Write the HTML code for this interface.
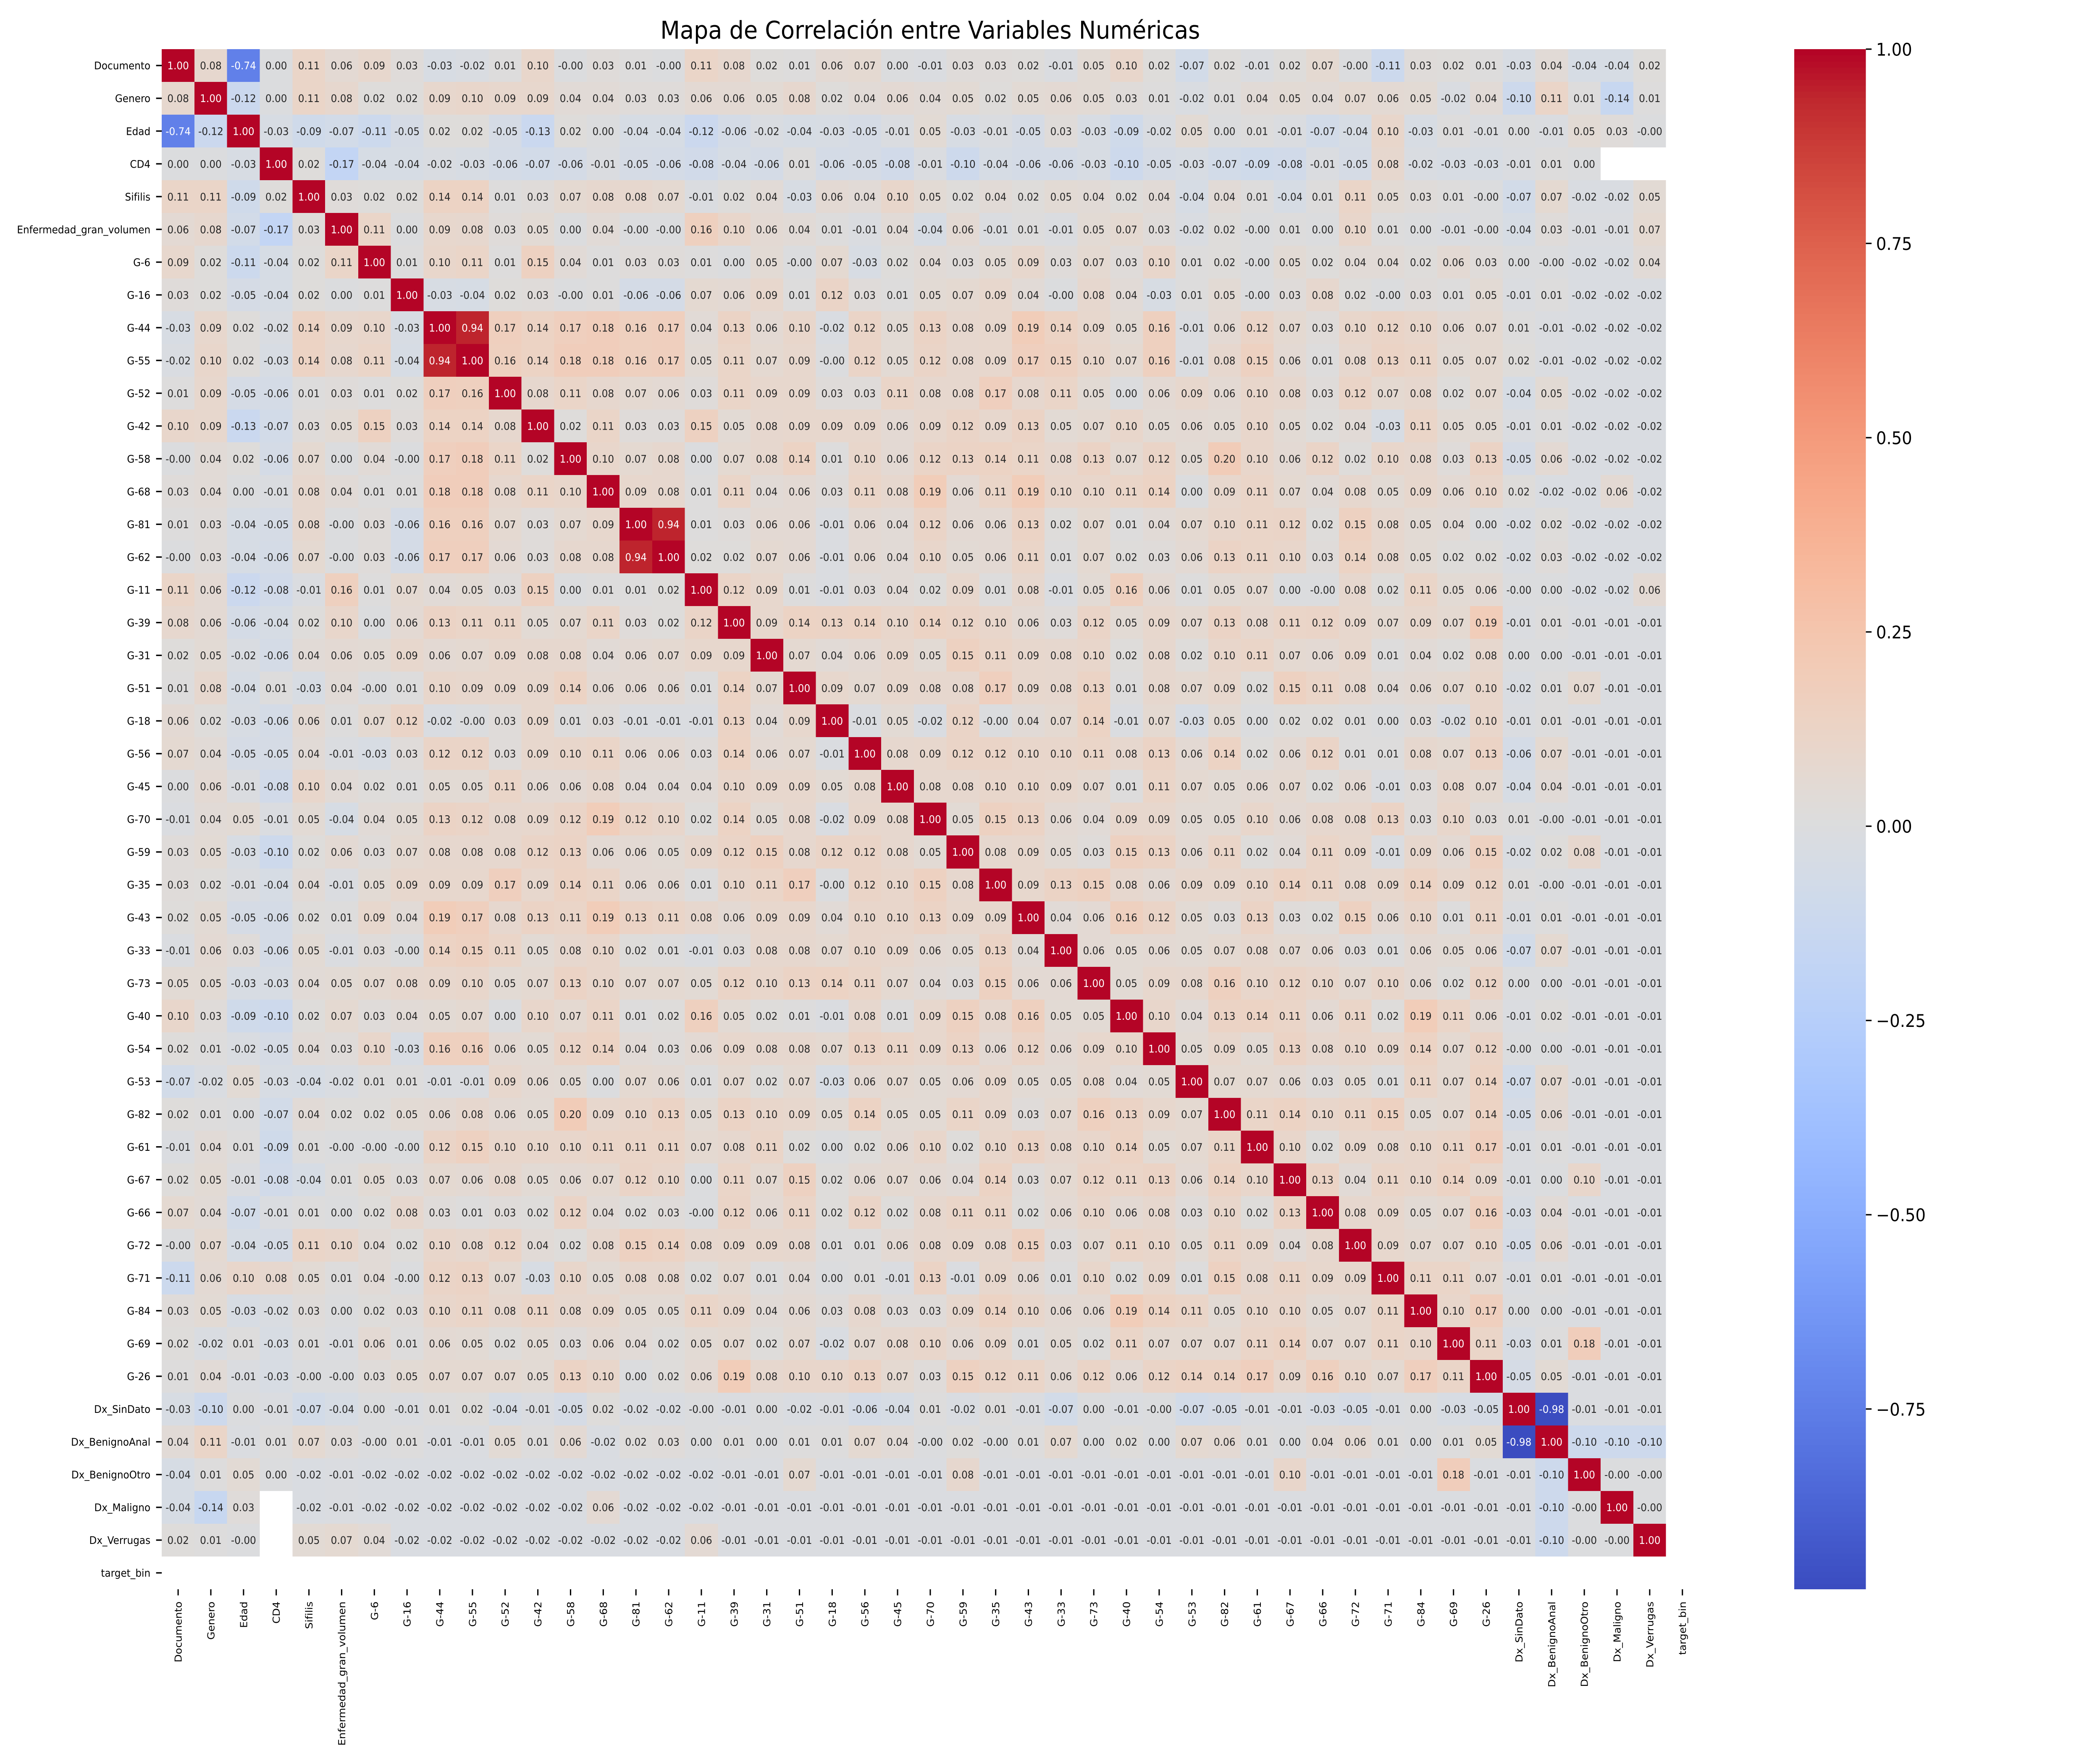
<!DOCTYPE html>
<html lang="es">
<head>
<meta charset="utf-8">
<title>Mapa de Correlación entre Variables Numéricas</title>
<style>
  html, body { margin: 0; padding: 0; background: #fff; width: 100vw; height: 100vh; overflow: hidden; }
  svg { display: block; width: 100vw; height: 100vh; overflow: hidden; }
  text { font-family: "DejaVu Sans", "Liberation Sans", sans-serif; text-rendering: geometricPrecision; }
</style>
</head>
<body>
<svg id="chart" xmlns="http://www.w3.org/2000/svg" viewBox="0 0 5400 4200" preserveAspectRatio="none">
  <rect x="0" y="0" width="5400" height="4200" fill="#ffffff"/>
  <text x="2392" y="92" font-size="58.33" text-anchor="middle" fill="#000">Mapa de Correlación entre Variables Numéricas</text>
  <g id="cells" shape-rendering="crispEdges"></g>
  <g id="annots"></g>
  <g id="yaxis"></g>
  <g id="xaxis"></g>
  <g id="cbar"></g>
</svg>
<script>
const categories = ["Documento","Genero","Edad","CD4","Sifilis","Enfermedad_gran_volumen","G-6","G-16","G-44","G-55","G-52","G-42","G-58","G-68","G-81","G-62","G-11","G-39","G-31","G-51","G-18","G-56","G-45","G-70","G-59","G-35","G-43","G-33","G-73","G-40","G-54","G-53","G-82","G-61","G-67","G-66","G-72","G-71","G-84","G-69","G-26","Dx_SinDato","Dx_BenignoAnal","Dx_BenignoOtro","Dx_Maligno","Dx_Verrugas","target_bin"];
const colorbarTicks = [1, 0.75, 0.5, 0.25, 0, -0.25, -0.5, -0.75];
const colorMin = -0.982;
const colorMax = 1;
/* -.001 marks values printed as -0.00; null marks empty (NaN) cells */
const correlations = [
[1,.08,-.74,.00,.11,.06,.09,.03,-.03,-.02,.01,.10,-.001,.03,.01,-.001,.11,.08,.02,.01,.06,.07,.00,-.01,.03,.03,.02,-.01,.05,.10,.02,-.07,.02,-.01,.02,.07,-.001,-.11,.03,.02,.01,-.03,.04,-.04,-.04,.02],
[.08,1,-.12,.00,.11,.08,.02,.02,.09,.10,.09,.09,.04,.04,.03,.03,.06,.06,.05,.08,.02,.04,.06,.04,.05,.02,.05,.06,.05,.03,.01,-.02,.01,.04,.05,.04,.07,.06,.05,-.02,.04,-.10,.11,.01,-.14,.01],
[-.74,-.12,1,-.03,-.09,-.07,-.11,-.05,.02,.02,-.05,-.13,.02,.00,-.04,-.04,-.12,-.06,-.02,-.04,-.03,-.05,-.01,.05,-.03,-.01,-.05,.03,-.03,-.09,-.02,.05,.00,.01,-.01,-.07,-.04,.10,-.03,.01,-.01,.00,-.01,.05,.03,-.001],
[.00,.00,-.03,1,.02,-.17,-.04,-.04,-.02,-.03,-.06,-.07,-.06,-.01,-.05,-.06,-.08,-.04,-.06,.01,-.06,-.05,-.08,-.01,-.10,-.04,-.06,-.06,-.03,-.10,-.05,-.03,-.07,-.09,-.08,-.01,-.05,.08,-.02,-.03,-.03,-.01,.01,.00,null,null],
[.11,.11,-.09,.02,1,.03,.02,.02,.14,.14,.01,.03,.07,.08,.08,.07,-.01,.02,.04,-.03,.06,.04,.10,.05,.02,.04,.02,.05,.04,.02,.04,-.04,.04,.01,-.04,.01,.11,.05,.03,.01,-.001,-.07,.07,-.02,-.02,.05],
[.06,.08,-.07,-.17,.03,1,.11,.00,.09,.08,.03,.05,.00,.04,-.001,-.001,.16,.10,.06,.04,.01,-.01,.04,-.04,.06,-.01,.01,-.01,.05,.07,.03,-.02,.02,-.001,.01,.00,.10,.01,.00,-.01,-.001,-.04,.03,-.01,-.01,.07],
[.09,.02,-.11,-.04,.02,.11,1,.01,.10,.11,.01,.15,.04,.01,.03,.03,.01,.00,.05,-.001,.07,-.03,.02,.04,.03,.05,.09,.03,.07,.03,.10,.01,.02,-.001,.05,.02,.04,.04,.02,.06,.03,.00,-.001,-.02,-.02,.04],
[.03,.02,-.05,-.04,.02,.00,.01,1,-.03,-.04,.02,.03,-.001,.01,-.06,-.06,.07,.06,.09,.01,.12,.03,.01,.05,.07,.09,.04,-.001,.08,.04,-.03,.01,.05,-.001,.03,.08,.02,-.001,.03,.01,.05,-.01,.01,-.02,-.02,-.02],
[-.03,.09,.02,-.02,.14,.09,.10,-.03,1,.94,.17,.14,.17,.18,.16,.17,.04,.13,.06,.10,-.02,.12,.05,.13,.08,.09,.19,.14,.09,.05,.16,-.01,.06,.12,.07,.03,.10,.12,.10,.06,.07,.01,-.01,-.02,-.02,-.02],
[-.02,.10,.02,-.03,.14,.08,.11,-.04,.94,1,.16,.14,.18,.18,.16,.17,.05,.11,.07,.09,-.001,.12,.05,.12,.08,.09,.17,.15,.10,.07,.16,-.01,.08,.15,.06,.01,.08,.13,.11,.05,.07,.02,-.01,-.02,-.02,-.02],
[.01,.09,-.05,-.06,.01,.03,.01,.02,.17,.16,1,.08,.11,.08,.07,.06,.03,.11,.09,.09,.03,.03,.11,.08,.08,.17,.08,.11,.05,.00,.06,.09,.06,.10,.08,.03,.12,.07,.08,.02,.07,-.04,.05,-.02,-.02,-.02],
[.10,.09,-.13,-.07,.03,.05,.15,.03,.14,.14,.08,1,.02,.11,.03,.03,.15,.05,.08,.09,.09,.09,.06,.09,.12,.09,.13,.05,.07,.10,.05,.06,.05,.10,.05,.02,.04,-.03,.11,.05,.05,-.01,.01,-.02,-.02,-.02],
[-.001,.04,.02,-.06,.07,.00,.04,-.001,.17,.18,.11,.02,1,.10,.07,.08,.00,.07,.08,.14,.01,.10,.06,.12,.13,.14,.11,.08,.13,.07,.12,.05,.20,.10,.06,.12,.02,.10,.08,.03,.13,-.05,.06,-.02,-.02,-.02],
[.03,.04,.00,-.01,.08,.04,.01,.01,.18,.18,.08,.11,.10,1,.09,.08,.01,.11,.04,.06,.03,.11,.08,.19,.06,.11,.19,.10,.10,.11,.14,.00,.09,.11,.07,.04,.08,.05,.09,.06,.10,.02,-.02,-.02,.06,-.02],
[.01,.03,-.04,-.05,.08,-.001,.03,-.06,.16,.16,.07,.03,.07,.09,1,.94,.01,.03,.06,.06,-.01,.06,.04,.12,.06,.06,.13,.02,.07,.01,.04,.07,.10,.11,.12,.02,.15,.08,.05,.04,.00,-.02,.02,-.02,-.02,-.02],
[-.001,.03,-.04,-.06,.07,-.001,.03,-.06,.17,.17,.06,.03,.08,.08,.94,1,.02,.02,.07,.06,-.01,.06,.04,.10,.05,.06,.11,.01,.07,.02,.03,.06,.13,.11,.10,.03,.14,.08,.05,.02,.02,-.02,.03,-.02,-.02,-.02],
[.11,.06,-.12,-.08,-.01,.16,.01,.07,.04,.05,.03,.15,.00,.01,.01,.02,1,.12,.09,.01,-.01,.03,.04,.02,.09,.01,.08,-.01,.05,.16,.06,.01,.05,.07,.00,-.001,.08,.02,.11,.05,.06,-.001,.00,-.02,-.02,.06],
[.08,.06,-.06,-.04,.02,.10,.00,.06,.13,.11,.11,.05,.07,.11,.03,.02,.12,1,.09,.14,.13,.14,.10,.14,.12,.10,.06,.03,.12,.05,.09,.07,.13,.08,.11,.12,.09,.07,.09,.07,.19,-.01,.01,-.01,-.01,-.01],
[.02,.05,-.02,-.06,.04,.06,.05,.09,.06,.07,.09,.08,.08,.04,.06,.07,.09,.09,1,.07,.04,.06,.09,.05,.15,.11,.09,.08,.10,.02,.08,.02,.10,.11,.07,.06,.09,.01,.04,.02,.08,.00,.00,-.01,-.01,-.01],
[.01,.08,-.04,.01,-.03,.04,-.001,.01,.10,.09,.09,.09,.14,.06,.06,.06,.01,.14,.07,1,.09,.07,.09,.08,.08,.17,.09,.08,.13,.01,.08,.07,.09,.02,.15,.11,.08,.04,.06,.07,.10,-.02,.01,.07,-.01,-.01],
[.06,.02,-.03,-.06,.06,.01,.07,.12,-.02,-.001,.03,.09,.01,.03,-.01,-.01,-.01,.13,.04,.09,1,-.01,.05,-.02,.12,-.001,.04,.07,.14,-.01,.07,-.03,.05,.00,.02,.02,.01,.00,.03,-.02,.10,-.01,.01,-.01,-.01,-.01],
[.07,.04,-.05,-.05,.04,-.01,-.03,.03,.12,.12,.03,.09,.10,.11,.06,.06,.03,.14,.06,.07,-.01,1,.08,.09,.12,.12,.10,.10,.11,.08,.13,.06,.14,.02,.06,.12,.01,.01,.08,.07,.13,-.06,.07,-.01,-.01,-.01],
[.00,.06,-.01,-.08,.10,.04,.02,.01,.05,.05,.11,.06,.06,.08,.04,.04,.04,.10,.09,.09,.05,.08,1,.08,.08,.10,.10,.09,.07,.01,.11,.07,.05,.06,.07,.02,.06,-.01,.03,.08,.07,-.04,.04,-.01,-.01,-.01],
[-.01,.04,.05,-.01,.05,-.04,.04,.05,.13,.12,.08,.09,.12,.19,.12,.10,.02,.14,.05,.08,-.02,.09,.08,1,.05,.15,.13,.06,.04,.09,.09,.05,.05,.10,.06,.08,.08,.13,.03,.10,.03,.01,-.001,-.01,-.01,-.01],
[.03,.05,-.03,-.10,.02,.06,.03,.07,.08,.08,.08,.12,.13,.06,.06,.05,.09,.12,.15,.08,.12,.12,.08,.05,1,.08,.09,.05,.03,.15,.13,.06,.11,.02,.04,.11,.09,-.01,.09,.06,.15,-.02,.02,.08,-.01,-.01],
[.03,.02,-.01,-.04,.04,-.01,.05,.09,.09,.09,.17,.09,.14,.11,.06,.06,.01,.10,.11,.17,-.001,.12,.10,.15,.08,1,.09,.13,.15,.08,.06,.09,.09,.10,.14,.11,.08,.09,.14,.09,.12,.01,-.001,-.01,-.01,-.01],
[.02,.05,-.05,-.06,.02,.01,.09,.04,.19,.17,.08,.13,.11,.19,.13,.11,.08,.06,.09,.09,.04,.10,.10,.13,.09,.09,1,.04,.06,.16,.12,.05,.03,.13,.03,.02,.15,.06,.10,.01,.11,-.01,.01,-.01,-.01,-.01],
[-.01,.06,.03,-.06,.05,-.01,.03,-.001,.14,.15,.11,.05,.08,.10,.02,.01,-.01,.03,.08,.08,.07,.10,.09,.06,.05,.13,.04,1,.06,.05,.06,.05,.07,.08,.07,.06,.03,.01,.06,.05,.06,-.07,.07,-.01,-.01,-.01],
[.05,.05,-.03,-.03,.04,.05,.07,.08,.09,.10,.05,.07,.13,.10,.07,.07,.05,.12,.10,.13,.14,.11,.07,.04,.03,.15,.06,.06,1,.05,.09,.08,.16,.10,.12,.10,.07,.10,.06,.02,.12,.00,.00,-.01,-.01,-.01],
[.10,.03,-.09,-.10,.02,.07,.03,.04,.05,.07,.00,.10,.07,.11,.01,.02,.16,.05,.02,.01,-.01,.08,.01,.09,.15,.08,.16,.05,.05,1,.10,.04,.13,.14,.11,.06,.11,.02,.19,.11,.06,-.01,.02,-.01,-.01,-.01],
[.02,.01,-.02,-.05,.04,.03,.10,-.03,.16,.16,.06,.05,.12,.14,.04,.03,.06,.09,.08,.08,.07,.13,.11,.09,.13,.06,.12,.06,.09,.10,1,.05,.09,.05,.13,.08,.10,.09,.14,.07,.12,-.001,.00,-.01,-.01,-.01],
[-.07,-.02,.05,-.03,-.04,-.02,.01,.01,-.01,-.01,.09,.06,.05,.00,.07,.06,.01,.07,.02,.07,-.03,.06,.07,.05,.06,.09,.05,.05,.08,.04,.05,1,.07,.07,.06,.03,.05,.01,.11,.07,.14,-.07,.07,-.01,-.01,-.01],
[.02,.01,.00,-.07,.04,.02,.02,.05,.06,.08,.06,.05,.20,.09,.10,.13,.05,.13,.10,.09,.05,.14,.05,.05,.11,.09,.03,.07,.16,.13,.09,.07,1,.11,.14,.10,.11,.15,.05,.07,.14,-.05,.06,-.01,-.01,-.01],
[-.01,.04,.01,-.09,.01,-.001,-.001,-.001,.12,.15,.10,.10,.10,.11,.11,.11,.07,.08,.11,.02,.00,.02,.06,.10,.02,.10,.13,.08,.10,.14,.05,.07,.11,1,.10,.02,.09,.08,.10,.11,.17,-.01,.01,-.01,-.01,-.01],
[.02,.05,-.01,-.08,-.04,.01,.05,.03,.07,.06,.08,.05,.06,.07,.12,.10,.00,.11,.07,.15,.02,.06,.07,.06,.04,.14,.03,.07,.12,.11,.13,.06,.14,.10,1,.13,.04,.11,.10,.14,.09,-.01,.00,.10,-.01,-.01],
[.07,.04,-.07,-.01,.01,.00,.02,.08,.03,.01,.03,.02,.12,.04,.02,.03,-.001,.12,.06,.11,.02,.12,.02,.08,.11,.11,.02,.06,.10,.06,.08,.03,.10,.02,.13,1,.08,.09,.05,.07,.16,-.03,.04,-.01,-.01,-.01],
[-.001,.07,-.04,-.05,.11,.10,.04,.02,.10,.08,.12,.04,.02,.08,.15,.14,.08,.09,.09,.08,.01,.01,.06,.08,.09,.08,.15,.03,.07,.11,.10,.05,.11,.09,.04,.08,1,.09,.07,.07,.10,-.05,.06,-.01,-.01,-.01],
[-.11,.06,.10,.08,.05,.01,.04,-.001,.12,.13,.07,-.03,.10,.05,.08,.08,.02,.07,.01,.04,.00,.01,-.01,.13,-.01,.09,.06,.01,.10,.02,.09,.01,.15,.08,.11,.09,.09,1,.11,.11,.07,-.01,.01,-.01,-.01,-.01],
[.03,.05,-.03,-.02,.03,.00,.02,.03,.10,.11,.08,.11,.08,.09,.05,.05,.11,.09,.04,.06,.03,.08,.03,.03,.09,.14,.10,.06,.06,.19,.14,.11,.05,.10,.10,.05,.07,.11,1,.10,.17,.00,.00,-.01,-.01,-.01],
[.02,-.02,.01,-.03,.01,-.01,.06,.01,.06,.05,.02,.05,.03,.06,.04,.02,.05,.07,.02,.07,-.02,.07,.08,.10,.06,.09,.01,.05,.02,.11,.07,.07,.07,.11,.14,.07,.07,.11,.10,1,.11,-.03,.01,.18,-.01,-.01],
[.01,.04,-.01,-.03,-.001,-.001,.03,.05,.07,.07,.07,.05,.13,.10,.00,.02,.06,.19,.08,.10,.10,.13,.07,.03,.15,.12,.11,.06,.12,.06,.12,.14,.14,.17,.09,.16,.10,.07,.17,.11,1,-.05,.05,-.01,-.01,-.01],
[-.03,-.10,.00,-.01,-.07,-.04,.00,-.01,.01,.02,-.04,-.01,-.05,.02,-.02,-.02,-.001,-.01,.00,-.02,-.01,-.06,-.04,.01,-.02,.01,-.01,-.07,.00,-.01,-.001,-.07,-.05,-.01,-.01,-.03,-.05,-.01,.00,-.03,-.05,1,-.98,-.01,-.01,-.01],
[.04,.11,-.01,.01,.07,.03,-.001,.01,-.01,-.01,.05,.01,.06,-.02,.02,.03,.00,.01,.00,.01,.01,.07,.04,-.001,.02,-.001,.01,.07,.00,.02,.00,.07,.06,.01,.00,.04,.06,.01,.00,.01,.05,-.98,1,-.10,-.10,-.10],
[-.04,.01,.05,.00,-.02,-.01,-.02,-.02,-.02,-.02,-.02,-.02,-.02,-.02,-.02,-.02,-.02,-.01,-.01,.07,-.01,-.01,-.01,-.01,.08,-.01,-.01,-.01,-.01,-.01,-.01,-.01,-.01,-.01,.10,-.01,-.01,-.01,-.01,.18,-.01,-.01,-.10,1,-.001,-.001],
[-.04,-.14,.03,null,-.02,-.01,-.02,-.02,-.02,-.02,-.02,-.02,-.02,.06,-.02,-.02,-.02,-.01,-.01,-.01,-.01,-.01,-.01,-.01,-.01,-.01,-.01,-.01,-.01,-.01,-.01,-.01,-.01,-.01,-.01,-.01,-.01,-.01,-.01,-.01,-.01,-.01,-.10,-.001,1,-.001],
[.02,.01,-.001,null,.05,.07,.04,-.02,-.02,-.02,-.02,-.02,-.02,-.02,-.02,-.02,.06,-.01,-.01,-.01,-.01,-.01,-.01,-.01,-.01,-.01,-.01,-.01,-.01,-.01,-.01,-.01,-.01,-.01,-.01,-.01,-.01,-.01,-.01,-.01,-.01,-.01,-.10,-.001,-.001,1]
];

/* matplotlib coolwarm colormap knots (33 evenly spaced stops) */
const cmR = [.2298057,.26623388,.30386891,.342804478,.38301334,.424369608,.46666708,.509635204,.552953156,.596262162,.639176211,.681291281,.722193294,.761464949,.798691636,.833466556,.865395197,.897787179,.924127593,.944468518,.958852946,.96732803,.969954137,.966811177,.958003065,.943660866,.923944917,.89904617,.869186849,.834620542,.795631745,.752534934,.705673158];
const cmG = [.298717966,.353094838,.406535296,.458757618,.50941904,.558148092,.604562568,.648280772,.688929332,.726149107,.759599947,.788964712,.813952739,.834302879,.849786142,.860207984,.86541021,.848937047,.827384882,.800927443,.769767752,.734132809,.694266682,.650421156,.602842431,.551750968,.49730856,.439559467,.378313092,.312874446,.24128379,.157246067,.01555616];
const cmB = [.753683153,.801466763,.84495867,.883725899,.917387822,.945619588,.968154911,.98478814,.995375608,.999836203,.998151185,.990363227,.976574709,.956945269,.931688648,.901068838,.865395561,.818,.771,.724,.678,.627,.577,.529,.482,.436,.389,.345,.302,.260,.219,.182,.149];

const PLOT_LEFT = 416, PLOT_TOP = 117, CELL_W = 84.09, CELL_H = 78.02;
const CB_LEFT = 4614, CB_RIGHT = 4798, CB_TOP = 117, CB_BOTTOM = 3784;
const TICK_LEN = 14.6, TICK_W = 3.33, PAD = 14.6;
const LABEL_SIZE = 25, ANNOT_SIZE = 25, CB_FONT = 41.67;
const SVGNS = 'http://www.w3.org/2000/svg';

function xCell(col) { return PLOT_LEFT + col * CELL_W; }
function yCell(row) { return PLOT_TOP + row * CELL_H; }
function yColorbar(v) { return CB_TOP + (colorMax - v) / (colorMax - colorMin) * (CB_BOTTOM - CB_TOP); }

function lerp(table, t) {
  const p = Math.min(Math.max(t, 0), 1) * (table.length - 1);
  const i = Math.min(Math.floor(p), table.length - 2);
  return table[i] + (table[i + 1] - table[i]) * (p - i);
}
function cmap(v) {
  const t0 = (v - colorMin) / (colorMax - colorMin);
  const t = Math.min(Math.floor(Math.min(Math.max(t0, 0), 1) * 256), 255) / 255;
  return [lerp(cmR, t), lerp(cmG, t), lerp(cmB, t)];
}
function css(c) { return 'rgb(' + c.map(function (x) { return Math.round(x * 255); }).join(',') + ')'; }
function luminance(c) {
  const l = c.map(function (x) { return x <= 0.03928 ? x / 12.92 : Math.pow((x + 0.055) / 1.055, 2.4); });
  return 0.2126 * l[0] + 0.7152 * l[1] + 0.0722 * l[2];
}
function mk(tag, parent, attrs, content) {
  const e = document.createElementNS(SVGNS, tag);
  for (const k in attrs) e.setAttribute(k, attrs[k]);
  if (content !== undefined) e.textContent = content;
  parent.appendChild(e);
  return e;
}

const gCells = document.getElementById('cells');
const gAnnots = document.getElementById('annots');
const gY = document.getElementById('yaxis');
const gX = document.getElementById('xaxis');
const gCb = document.getElementById('cbar');

correlations.forEach(function (rowValues, r) {
  rowValues.forEach(function (v, c) {
    if (v === null) return;
    const col = cmap(v);
    const x0 = Math.round(xCell(c)), x1 = Math.round(xCell(c + 1));
    const y0 = Math.round(yCell(r)), y1 = Math.round(yCell(r + 1));
    const cell = mk('rect', gCells, { x: x0, y: y0, width: x1 - x0, height: y1 - y0, fill: css(col) });
    
    
    const label = mk('text', gAnnots, {
      x: (xCell(c) + CELL_W / 2).toFixed(2),
      y: (yCell(r) + CELL_H / 2 + 9.2).toFixed(2),
      'font-size': ANNOT_SIZE,
      'text-anchor': 'middle',
      fill: luminance(col) < 0.408 ? '#ffffff' : '#262626'
    }, v.toFixed(2));
    
    
  });
});

categories.forEach(function (name, i) {
  const yc = yCell(i) + CELL_H / 2;
  const xc = xCell(i) + CELL_W / 2;

  const yt = mk('line', gY, { x1: PLOT_LEFT - TICK_LEN, x2: PLOT_LEFT, y1: yc, y2: yc, stroke: '#000', 'stroke-width': TICK_W });
  
  
  const yl = mk('text', gY, { x: PLOT_LEFT - TICK_LEN - PAD, y: yc + 9.2, 'font-size': LABEL_SIZE, 'text-anchor': 'end', fill: '#000' }, name);
  
  

  const bottom = PLOT_TOP + categories.length * CELL_H;
  const xt = mk('line', gX, { x1: xc, x2: xc, y1: bottom, y2: bottom + TICK_LEN, stroke: '#000', 'stroke-width': TICK_W });
  
  
  const ly = bottom + TICK_LEN + PAD;
  const xl = mk('text', gX, { x: 0, y: 0, 'font-size': LABEL_SIZE, 'text-anchor': 'end', fill: '#000', transform: 'translate(' + (xc + 9.2) + ' ' + ly + ') rotate(-90)' }, name);
  
  
});

const gGrad = mk('g', gCb, { 'shape-rendering': 'crispEdges' });


for (let i = 0; i < 256; i++) {
  const vHi = colorMin + (colorMax - colorMin) * (i + 1) / 256;
  const vLo = colorMin + (colorMax - colorMin) * i / 256;
  const y0 = Math.round(yColorbar(vHi)), y1 = Math.round(yColorbar(vLo));
  const h = Math.min(y1 - y0 + 1, CB_BOTTOM - y0);
  const band = mk('rect', gGrad, { x: CB_LEFT, y: y0, width: CB_RIGHT - CB_LEFT, height: h, fill: css(cmap((vHi + vLo) / 2)) });
  
  
}
colorbarTicks.forEach(function (v) {
  const y = yColorbar(v);
  const t = mk('line', gCb, { x1: CB_RIGHT, x2: CB_RIGHT + TICK_LEN, y1: y, y2: y, stroke: '#000', 'stroke-width': TICK_W });
  
  
  const txt = (v < 0 ? '\u2212' : '') + Math.abs(v).toFixed(2);
  const l = mk('text', gCb, { x: CB_RIGHT + TICK_LEN + PAD - 3, y: y + 15.5, 'font-size': CB_FONT, fill: '#000' }, txt);
  
  
});
</script>
</body>
</html>
